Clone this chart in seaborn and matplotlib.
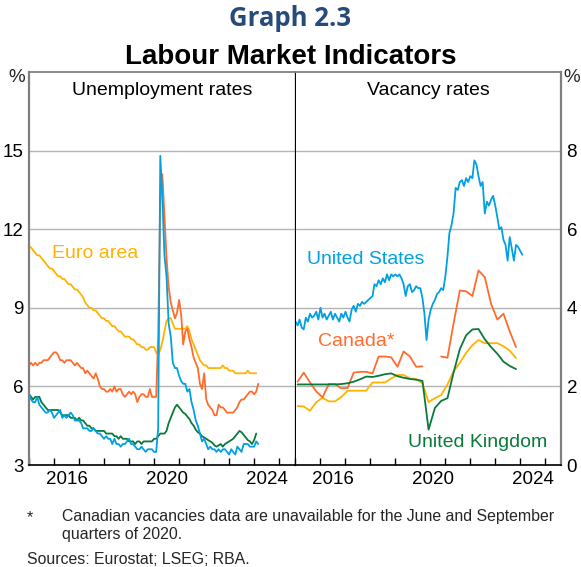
import numpy as np
import pandas as pd
import seaborn as sns
import matplotlib.pyplot as plt
import matplotlib.dates as mdates
from matplotlib.ticker import FixedLocator, NullFormatter

# Unemployment rates, monthly from Jan 2015 (%)
unemp_euro = [11.35, 11.3, 11.2, 11.1, 11.0, 11.0, 10.9, 10.8, 10.7, 10.6, 10.5, 10.5,
              10.4, 10.3, 10.2, 10.2, 10.1, 10.1, 10.0, 9.9, 9.9, 9.8, 9.7, 9.7,
              9.6, 9.5, 9.4, 9.2, 9.1, 9.0, 9.0, 8.9, 8.9, 8.8, 8.7, 8.6,
              8.6, 8.5, 8.5, 8.4, 8.3, 8.3, 8.2, 8.1, 8.1, 8.0, 7.9, 7.9,
              7.9, 7.8, 7.8, 7.7, 7.6, 7.6, 7.5, 7.5, 7.4, 7.4, 7.5, 7.5,
              7.5, 7.3, 7.2, 7.4, 7.7, 8.1, 8.5, 8.6, 8.6, 8.4, 8.2, 8.2,
              8.2, 8.2, 8.2, 8.2, 8.3, 8.1, 7.8, 7.6, 7.4, 7.2, 7.0, 6.9,
              6.8, 6.8, 6.7, 6.7, 6.7, 6.7, 6.7, 6.7, 6.7, 6.8, 6.7, 6.7,
              6.6, 6.6, 6.6, 6.5, 6.5, 6.5, 6.5, 6.5, 6.5, 6.6, 6.5, 6.5,
              6.5, 6.5]
unemp_canada = [6.8, 6.9, 6.8, 6.9, 6.8, 6.9, 6.9, 7.0, 7.0, 7.0, 7.1, 7.2,
                7.3, 7.3, 7.2, 7.0, 7.0, 6.9, 7.0, 7.0, 7.0, 6.9, 6.8, 6.9,
                6.8, 6.7, 6.7, 6.5, 6.6, 6.5, 6.4, 6.3, 6.5, 6.3, 6.0, 5.9,
                5.9, 5.8, 5.8, 5.9, 5.8, 6.0, 5.8, 5.9, 5.9, 5.7, 5.6, 5.7,
                5.8, 5.7, 5.8, 5.7, 5.4, 5.6, 5.7, 5.7, 5.6, 5.6, 5.9, 5.6,
                5.6, 5.6, 7.9, 13.1, 14.1, 12.5, 10.9, 9.8, 9.2, 8.9, 8.6, 8.8,
                9.3, 8.7, 7.6, 8.1, 8.2, 7.8, 7.5, 7.1, 6.9, 6.7, 6.1, 5.9,
                6.5, 5.5, 5.3, 5.2, 5.1, 4.9, 4.9, 5.3, 5.2, 5.2, 5.1, 5.0,
                5.0, 5.0, 5.0, 5.1, 5.2, 5.4, 5.5, 5.5, 5.6, 5.7, 5.8, 5.8,
                5.7, 5.8, 6.1]
unemp_us = [5.7, 5.5, 5.4, 5.4, 5.6, 5.3, 5.2, 5.1, 5.0, 5.0, 5.1, 5.0,
            4.8, 4.9, 5.0, 5.1, 4.8, 4.9, 4.8, 4.9, 5.0, 4.9, 4.7, 4.7,
            4.7, 4.6, 4.4, 4.4, 4.4, 4.3, 4.3, 4.4, 4.3, 4.2, 4.2, 4.1,
            4.0, 4.1, 4.0, 4.0, 3.8, 4.0, 3.8, 3.8, 3.7, 3.8, 3.8, 3.9,
            4.0, 3.8, 3.8, 3.7, 3.6, 3.6, 3.7, 3.6, 3.5, 3.6, 3.6, 3.6,
            3.5, 3.5, 4.4, 14.8, 13.2, 11.0, 10.2, 8.4, 7.9, 6.9, 6.7, 6.7,
            6.4, 6.2, 6.1, 6.1, 5.8, 5.9, 5.4, 5.1, 4.7, 4.5, 4.2, 3.9,
            4.0, 3.8, 3.6, 3.7, 3.6, 3.6, 3.5, 3.6, 3.5, 3.6, 3.6, 3.5,
            3.4, 3.6, 3.5, 3.4, 3.7, 3.6, 3.5, 3.8, 3.8, 3.8, 3.7, 3.7,
            3.7, 3.9, 3.8]
unemp_uk = [5.7, 5.6, 5.5, 5.6, 5.6, 5.6, 5.4, 5.3, 5.2, 5.1, 5.1, 5.1,
            5.1, 5.1, 5.1, 5.0, 4.9, 4.9, 4.9, 4.9, 4.8, 4.8, 4.8, 4.7,
            4.8, 4.7, 4.7, 4.6, 4.5, 4.5, 4.4, 4.4, 4.3, 4.3, 4.3, 4.3,
            4.3, 4.2, 4.2, 4.2, 4.2, 4.1, 4.1, 4.0, 4.1, 4.0, 4.0, 4.0,
            3.9, 3.9, 3.9, 3.8, 3.9, 3.9, 3.8, 3.9, 3.9, 3.9, 3.9, 3.9,
            4.0, 4.0, 4.1, 4.2, 4.2, 4.2, 4.3, 4.6, 4.8, 5.0, 5.2, 5.3,
            5.2, 5.1, 5.0, 4.95, 4.85, 4.75, 4.6, 4.5, 4.35, 4.25, 4.2, 4.1,
            4.05, 4.0, 3.95, 3.9, 3.85, 3.75, 3.7, 3.75, 3.8, 3.7, 3.8, 3.85,
            3.9, 3.95, 4.0, 4.1, 4.2, 4.3, 4.25, 4.15, 4.05, 3.95, 3.9, 3.8,
            3.95, 4.2]

# Vacancy rates (%): US monthly from Jan 2015, others quarterly from 2015 Q1
vac_us = [3.65, 3.55, 3.7, 3.5, 3.45, 3.75, 3.65, 3.85, 3.75, 3.8, 3.9, 3.7,
          4.0, 3.75, 3.85, 3.7, 3.8, 3.9, 3.7, 3.85, 3.75, 3.65, 3.85, 3.75,
          3.9, 3.75, 3.65, 3.95, 4.05, 3.9, 4.1, 4.05, 4.15, 4.1, 4.15, 4.2,
          4.25, 4.3, 4.6, 4.55, 4.7, 4.6, 4.75, 4.65, 4.85, 4.7, 4.85, 4.8,
          4.85, 4.8, 4.85, 4.75, 4.6, 4.3, 4.55, 4.6, 4.4, 4.45, 4.55, 4.5,
          4.5, 4.25, 3.85, 3.18, 3.7, 3.95, 4.1, 4.2, 4.35, 4.4, 4.5, 4.45,
          4.8, 5.3, 5.9, 6.1, 6.4, 7.05, 7.0, 7.2, 7.25, 7.1, 7.3, 7.2,
          7.35, 7.3, 7.75, 7.65, 7.35, 7.1, 7.2, 6.4, 6.7, 6.6, 6.75, 6.85,
          6.6, 6.3, 6.0, 6.05, 5.73, 5.6, 5.2, 5.8, 5.5, 5.2, 5.6, 5.55,
          5.45, 5.35]
vac_canada = [2.12, 2.35, 2.1, 1.87, 1.72, 2.06, 2.06, 1.95, 1.96, 2.35, 2.37, 2.37,
              2.33, 2.76, 2.76, 2.74, 2.5, 2.89, 2.76, 2.5, 2.51, np.nan, np.nan, 2.76,
              2.73, 3.6, 4.44, 4.42, 4.3, 4.95, 4.78, 4.1, 3.7, 3.85, 3.4, 3.0]
vac_uk = [2.05, 2.05, 2.05, 2.05, 2.05, 2.05, 2.05, 2.06, 2.08, 2.12, 2.18, 2.25,
          2.24, 2.27, 2.31, 2.33, 2.26, 2.22, 2.19, 2.17, 2.14, 0.9, 1.45, 1.63,
          1.7, 2.35, 2.95, 3.3, 3.45, 3.46, 3.2, 3.0, 2.83, 2.63, 2.52, 2.44]
vac_euro = [1.5, 1.49, 1.38, 1.6, 1.71, 1.62, 1.62, 1.73, 1.89, 1.89, 1.89, 1.89,
            2.1, 2.1, 2.1, 2.2, 2.29, 2.29, 2.2, 2.19, 2.08, 1.6, 1.7, 1.78,
            2.05, 2.38, 2.6, 2.85, 3.05, 3.18, 3.1, 3.1, 3.1, 3.02, 2.91, 2.72]

year_labels = [2016, 2020, 2024]

BLUE = "#00a0e2"
ORANGE = "#ff6c2c"
YELLOW = "#ffb300"
GREEN = "#0a7a3a"

FS = 14      # panel text
TICK_FS = 13.5
NOTE_FS = 11.4


def monthly(values):
    return pd.DataFrame({"date": pd.date_range("2015-01-01", periods=len(values), freq="MS"),
                         "value": values})


def quarterly(values):
    # quarterly points sit on the middle month of the quarter
    df = pd.DataFrame({"date": pd.date_range("2015-02-01", periods=len(values), freq="3MS"),
                       "value": values})
    df["segment"] = df["value"].isna().cumsum()
    return df.dropna()


sns.set_theme(style="white")
plt.rcParams["font.family"] = ["Liberation Sans", "DejaVu Sans"]

fig = plt.figure(figsize=(5.81, 5.67), dpi=100)
ax1 = fig.add_axes([29 / 581, 1 - 465 / 567, 266 / 581, 393 / 567])
ax2 = fig.add_axes([295.5 / 581, 1 - 465 / 567, 265.5 / 581, 393 / 567])

lw = 1.3
# left panel
for vals, col in [(unemp_euro, YELLOW), (unemp_canada, ORANGE), (unemp_uk, GREEN), (unemp_us, BLUE)]:
    sns.lineplot(data=monthly(vals), x="date", y="value", color=col, lw=lw, ax=ax1)

# right panel
sns.lineplot(data=quarterly(vac_euro), x="date", y="value", color=YELLOW, lw=lw, ax=ax2)
sns.lineplot(data=quarterly(vac_canada), x="date", y="value", units="segment", estimator=None,
             color=ORANGE, lw=lw, ax=ax2)
sns.lineplot(data=quarterly(vac_uk), x="date", y="value", color=GREEN, lw=lw, ax=ax2)
sns.lineplot(data=monthly(vac_us), x="date", y="value", color=BLUE, lw=lw, ax=ax2)

xmin, xmax = pd.Timestamp("2015-01-01"), pd.Timestamp("2025-08-20")
mid_years = [mdates.date2num(pd.Timestamp(f"{y}-07-02")) for y in year_labels]

for ax in (ax1, ax2):
    ax.set_xlim(xmin, xmax)
    ax.set_xlabel("")
    ax.set_ylabel("")
    ax.xaxis.set_major_locator(mdates.YearLocator(1))
    ax.xaxis.set_major_formatter(NullFormatter())
    ax.xaxis.set_minor_locator(FixedLocator(mid_years))
    ax.xaxis.set_minor_formatter(plt.FixedFormatter([str(y) for y in year_labels]))
    ax.tick_params(axis="x", which="major", direction="in", length=5, width=1, color="black",
                   bottom=True)
    ax.tick_params(axis="x", which="minor", length=0, labelsize=TICK_FS, pad=4, colors="black")
    ax.tick_params(axis="y", length=0, labelsize=TICK_FS, pad=4, colors="black")
    ax.grid(axis="y", color="#b3b3b3", lw=1.0)
    ax.grid(axis="x", visible=False)
    ax.spines["bottom"].set_color("black")
    ax.spines["bottom"].set_linewidth(1.2)
    ax.spines["top"].set_color("#7f7f7f")
    ax.spines["top"].set_linewidth(1.3)
    ax.set_facecolor("white")

ax1.set_ylim(3, 18)
ax1.set_yticks([3, 6, 9, 12, 15])
ax1.spines["left"].set_color("#7f7f7f")
ax1.spines["left"].set_linewidth(1.6)
ax1.spines["right"].set_color("black")
ax1.spines["right"].set_linewidth(0.9)

ax2.set_ylim(0, 10)
ax2.set_yticks([0, 2, 4, 6, 8])
ax2.yaxis.tick_right()
ax2.spines["left"].set_visible(False)
ax2.spines["right"].set_color("#7f7f7f")
ax2.spines["right"].set_linewidth(1.6)

# panel titles and series labels
ax1.text(0.5, 0.952, "Unemployment rates", transform=ax1.transAxes, ha="center", va="center",
         fontsize=FS, color="black")
ax2.text(0.5, 0.952, "Vacancy rates", transform=ax2.transAxes, ha="center", va="center",
         fontsize=FS, color="black")
ax1.text(0.086, 0.539, "Euro area", transform=ax1.transAxes, va="center", fontsize=FS, color=YELLOW)
ax2.text(0.043, 0.524, "United States", transform=ax2.transAxes, va="center", fontsize=FS, color=BLUE)
ax2.text(0.084, 0.313, "Canada*", transform=ax2.transAxes, va="center", fontsize=FS, color=ORANGE)
ax2.text(0.424, 0.0585, "United Kingdom", transform=ax2.transAxes, va="center", fontsize=FS, color=GREEN)

# units
fig.text(17 / 581, 1 - 78 / 567, "%", ha="center", va="center", fontsize=TICK_FS)
fig.text(572 / 581, 1 - 78 / 567, "%", ha="center", va="center", fontsize=TICK_FS)

# titles
fig.text(0.5, 1 - 19 / 567, "Graph 2.3", ha="center", va="center", fontsize=18.5, fontweight="bold",
         color="#264a7a", family=["Open Sans", "DejaVu Sans"])
fig.text(0.5, 1 - 57 / 567, "Labour Market Indicators", ha="center", va="center", fontsize=20,
         fontweight="bold", color="black")

# notes
fig.text(30 / 581, 1 - 518 / 567, "*", ha="center", va="center", fontsize=NOTE_FS)
fig.text(62 / 581, 1 - 516 / 567, "Canadian vacancies data are unavailable for the June and September",
         va="center", fontsize=NOTE_FS)
fig.text(62 / 581, 1 - 535 / 567, "quarters of 2020.", va="center", fontsize=NOTE_FS)
fig.text(27 / 581, 1 - 560 / 567, "Sources: Eurostat; LSEG; RBA.", va="center", fontsize=NOTE_FS)

fig.savefig("out.png", dpi=100)
